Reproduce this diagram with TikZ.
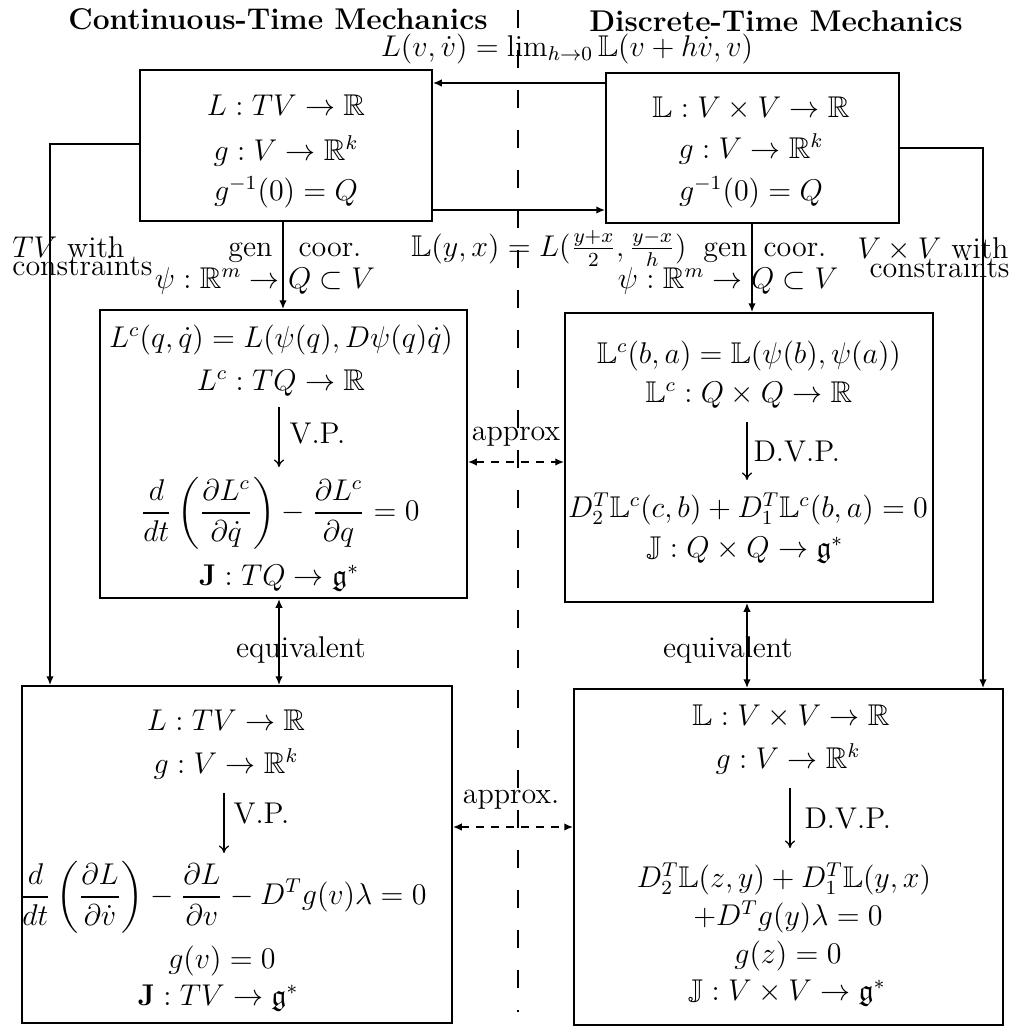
\documentclass[tikz,border=0pt,12pt]{standalone}
\usepackage{amsmath,amssymb}
\usetikzlibrary{arrows.meta,fit}
\begin{document}
\begin{tikzpicture}[x=0.4pt,y=-0.4pt,
  box/.style={draw,line width=0.8pt,inner sep=0pt},
  conn/.style={line width=0.6pt,-{Latex[length=3.5pt,width=3pt]}},
  twoway/.style={line width=0.6pt,{Latex[length=3.5pt,width=3pt]}-{Latex[length=3.5pt,width=3pt]}},
  approxarrow/.style={line width=0.6pt,dash pattern=on 3pt off 3pt,{Latex[length=3.5pt,width=3pt]}-{Latex[length=3.5pt,width=3pt]}},
  divider/.style={line width=0.8pt,dash pattern=on 7pt off 9pt},
  inarrow/.style={line width=0.5pt,-{To[length=3pt,width=4pt]}},
  txt/.style={anchor=base,inner sep=0pt},
  ttl/.style={anchor=base,inner sep=0pt,font=\bfseries}]
\useasboundingbox (0,0) rectangle (1016,1028);

% titles
\node[ttl] (t1) at (278,29) {Continuous-Time Mechanics};
\node[ttl] (t2) at (776,31) {Discrete-Time Mechanics};

% boxes
\node[box,fit={(140,70) (432,221)}] (tl) {};
\node[box,fit={(606,73) (899,223)}] (tr) {};
\node[box,fit={(100,310) (467,598)}] (ml) {};
\node[box,fit={(565,313) (933,602)}] (mr) {};
\node[box,fit={(22,686) (452,1023)}] (bl) {};
\node[box,fit={(574,689) (1003,1025)}] (br) {};

% top-left content
\node[txt] (tl1) at (286,115) {$L : TV \to \mathbb{R}$};
\node[txt] (tl2) at (286,160) {$g : V \to \mathbb{R}^k$};
\node[txt] (tl3) at (286,200) {$g^{-1}(0) = Q$};

% top-right content
\node[txt] (tr1) at (751,117) {$\mathbb{L} : V \times V \to \mathbb{R}$};
\node[txt] (tr2) at (751,158) {$g : V \to \mathbb{R}^k$};
\node[txt] (tr3) at (751,200) {$g^{-1}(0) = Q$};

% middle-left content
\node[txt] (ml1) at (281,347) {$L^c(q,\dot q) = L(\psi(q), D\psi(q)\dot q)$};
\node[txt] (ml2) at (281,390) {$L^c : TQ \to \mathbb{R}$};
\coordinate (mla) at (279,407);
\coordinate (mlb) at (279,467);
\draw[inarrow] (mla) -- (mlb);
\node[anchor=base west,inner sep=0pt] (mlvp) at (289,443) {V.P.};
\node[anchor=center,inner sep=0pt] (ml3) at (280,513) {$\displaystyle \frac{d}{dt}\left(\frac{\partial L^c}{\partial \dot q}\right) - \frac{\partial L^c}{\partial q} = 0$};
\node[txt] (ml4) at (279,585) {$\mathbf{J} : TQ \to \mathfrak{g}^*$};

% middle-right content
\node[txt] (mr1) at (749,363) {$\mathbb{L}^c(b,a) = \mathbb{L}(\psi(b),\psi(a))$};
\node[txt] (mr2) at (749,402) {$\mathbb{L}^c : Q \times Q \to \mathbb{R}$};
\coordinate (mra) at (747,422);
\coordinate (mrb) at (747,480);
\draw[inarrow] (mra) -- (mrb);
\node[anchor=base west,inner sep=0pt] (mrvp) at (753,461) {D.V.P.};
\node[txt] (mr3) at (748,517) {$D_2^T\mathbb{L}^c(c,b) + D_1^T\mathbb{L}^c(b,a) = 0$};
\node[txt] (mr4) at (745,557) {$\mathbb{J} : Q \times Q \to \mathfrak{g}^*$};

% bottom-left content
\node[txt] (bl1) at (226,730) {$L : TV \to \mathbb{R}$};
\node[txt] (bl2) at (226,773) {$g : V \to \mathbb{R}^k$};
\coordinate (bla) at (224,793);
\coordinate (blb) at (224,853);
\draw[inarrow] (bla) -- (blb);
\node[anchor=base west,inner sep=0pt] (blvp) at (233,823) {V.P.};
\node[anchor=center,inner sep=0pt] (bl3) at (223,897) {$\displaystyle \frac{d}{dt}\left(\frac{\partial L}{\partial \dot v}\right) - \frac{\partial L}{\partial v} - D^T g(v)\lambda = 0$};
\node[txt] (bl4) at (222,968) {$g(v) = 0$};
\node[txt] (bl5) at (218,1005) {$\mathbf{J} : TV \to \mathfrak{g}^*$};

% bottom-right content
\node[txt] (br1) at (791,725) {$\mathbb{L} : V \times V \to \mathbb{R}$};
\node[txt] (br2) at (788,768) {$g : V \to \mathbb{R}^k$};
\coordinate (bra) at (790,788);
\coordinate (brb) at (790,848);
\draw[inarrow] (bra) -- (brb);
\node[anchor=base west,inner sep=0pt] (brvp) at (804,828) {D.V.P.};
\node[txt] (br3) at (784,887) {$D_2^T\mathbb{L}(z,y) + D_1^T\mathbb{L}(y,x)$};
\node[txt] (br4) at (788,925) {$+D^T g(y)\lambda = 0$};
\node[txt] (br5) at (788,963) {$g(z) = 0$};
\node[txt] (br6) at (787,1000) {$\mathbb{J} : V \times V \to \mathfrak{g}^*$};

% dashed divider
\coordinate (dtop) at (518,10);
\coordinate (dbot) at (518,1012);
\draw[divider] (dtop) -- (dbot);

% connectors between top boxes
\draw[conn] (tr.west |- 0,83) -- (tl.east |- 0,83);
\draw[conn] (tl.east |- 0,210) -- (tr.west |- 0,210);
\node[txt] (limlab) at (567,56) {$L(v,\dot v) = \lim_{h\to 0}\mathbb{L}(v+h\dot v, v)$};
\node[txt] (disclab) at (549,256) {$\mathbb{L}(y,x) = L(\frac{y+x}{2},\frac{y-x}{h})$};

% generalized coordinates
\draw[conn] (tl.south -| 283,0) -- (ml.north -| 283,0);
\draw[conn] (tr.south -| 752,0) -- (mr.north -| 752,0);
\node[anchor=base east,inner sep=0pt] (genl) at (273,256) {gen};
\node[anchor=base west,inner sep=0pt] (coorl) at (298,256) {coor.};
\node[txt] (psil) at (265,288) {$\psi : \mathbb{R}^m \to Q \subset V$};
\node[anchor=base east,inner sep=0pt] (genr) at (748,256) {gen};
\node[anchor=base west,inner sep=0pt] (coorr) at (763,256) {coor.};
\node[txt] (psir) at (728,288) {$\psi : \mathbb{R}^m \to Q \subset V$};

% constraints
\draw[conn] (tl.west |- 0,144) -| (bl.north -| 50,0);
\draw[conn] (tr.east |- 0,148) -| (br.north -| 983,0);
\node[anchor=base west,inner sep=0pt] (tvw) at (12,257) {$TV$ with};
\node[anchor=base west,inner sep=0pt] (tvc) at (12,275) {constraints};
\node[anchor=base east,inner sep=0pt] (vvw) at (1009,258) {$V \times V$ with};
\node[anchor=base east,inner sep=0pt] (vvc) at (1010,277) {constraints};

% equivalent
\draw[twoway] (ml.south -| 279,0) -- (bl.north -| 279,0);
\draw[twoway] (mr.south -| 747,0) -- (br.north -| 747,0);
\node[txt] (eql) at (301,657) {equivalent};
\node[txt] (eqr) at (728,657) {equivalent};

% approx
\draw[approxarrow] (ml.east |- 0,462) -- (mr.west |- 0,462);
\draw[approxarrow] (bl.east |- 0,827) -- (br.west |- 0,827);
\node[txt] (apx1) at (516,440) {approx};
\node[txt] (apx2) at (511,803) {approx.};
\end{tikzpicture}
\end{document}
